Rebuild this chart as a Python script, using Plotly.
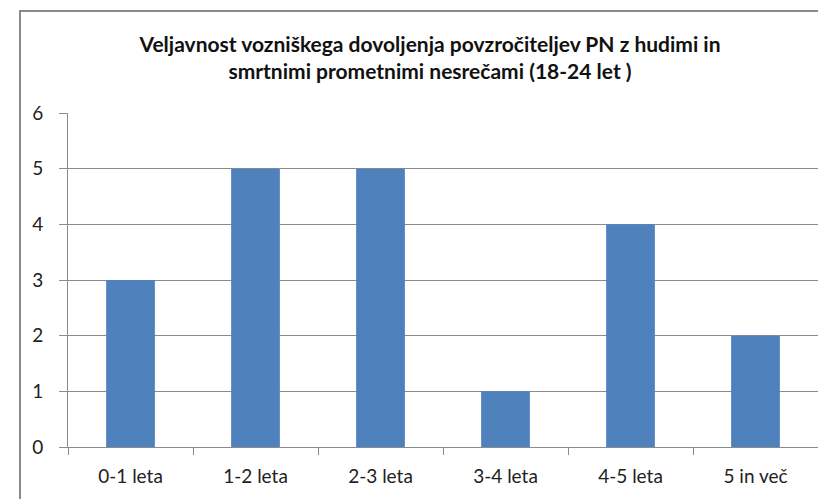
import plotly.graph_objects as go

categories = ["0-1 leta", "1-2 leta", "2-3 leta", "3-4 leta", "4-5 leta", "5 in več"]
values = [3, 5, 5, 1, 4, 2]
title_text = "Veljavnost vozniškega dovoljenja povzročiteljev PN z hudimi in<br>smrtnimi prometnimi nesrečami (18-24 let )"

# page body has an 8px margin, so the figure starts at (8, 8)
OFF = 8
W, H = 826 - OFF, 499 - OFF
L, R, T, B = 68 - OFF, 8, 113 - OFF, 52
pw, ph = W - L - R, H - T - B

fig = go.Figure(go.Bar(x=categories, y=values, marker=dict(color="#4F81BD", line=dict(width=0)),
                       hoverinfo="x+y"))

def px_x(p):
    return (p - OFF - L) / pw

def px_y(p):
    return (H - B - (p - OFF)) / ph

fig.update_layout(
    width=W, height=H, autosize=False,
    margin=dict(l=L, r=R, t=T, b=B, pad=0),
    paper_bgcolor="white", plot_bgcolor="white",
    bargap=0.61,
    showlegend=False,
    font=dict(family="Lato, Open Sans, sans-serif", size=19, color="#222"),
    title=dict(text="<b>" + title_text + "</b>", x=px_x(430), xref="paper", xanchor="center",
               y=1 - (52 - OFF) / H, yanchor="middle",
               font=dict(family="Lato, Open Sans, sans-serif", size=21, color="#111")),
    xaxis=dict(showgrid=False, showline=True, linecolor="#8c8c8c", linewidth=1,
               ticks="outside", ticklen=7, tickcolor="#8c8c8c", tickson="boundaries",
               ticklabelstandoff=12,
               tickfont=dict(size=19, color="#222"), fixedrange=True),
    yaxis=dict(range=[0, 6], dtick=1, showgrid=True, gridcolor="#8c8c8c", gridwidth=1,
               showline=True, linecolor="#8c8c8c", linewidth=1, zeroline=False,
               ticks="outside", ticklen=8, tickcolor="#8c8c8c",
               ticklabelstandoff=12,
               tickfont=dict(size=19, color="#222"), fixedrange=True),
    shapes=[dict(type="rect", xref="paper", yref="paper",
                 x0=px_x(20), x1=px_x(826 + 20), y0=px_y(499 + 20), y1=px_y(11),
                 line=dict(color="#8a8a8a", width=2), fillcolor="rgba(0,0,0,0)", layer="below")],
)

fig.write_html("out.html")
